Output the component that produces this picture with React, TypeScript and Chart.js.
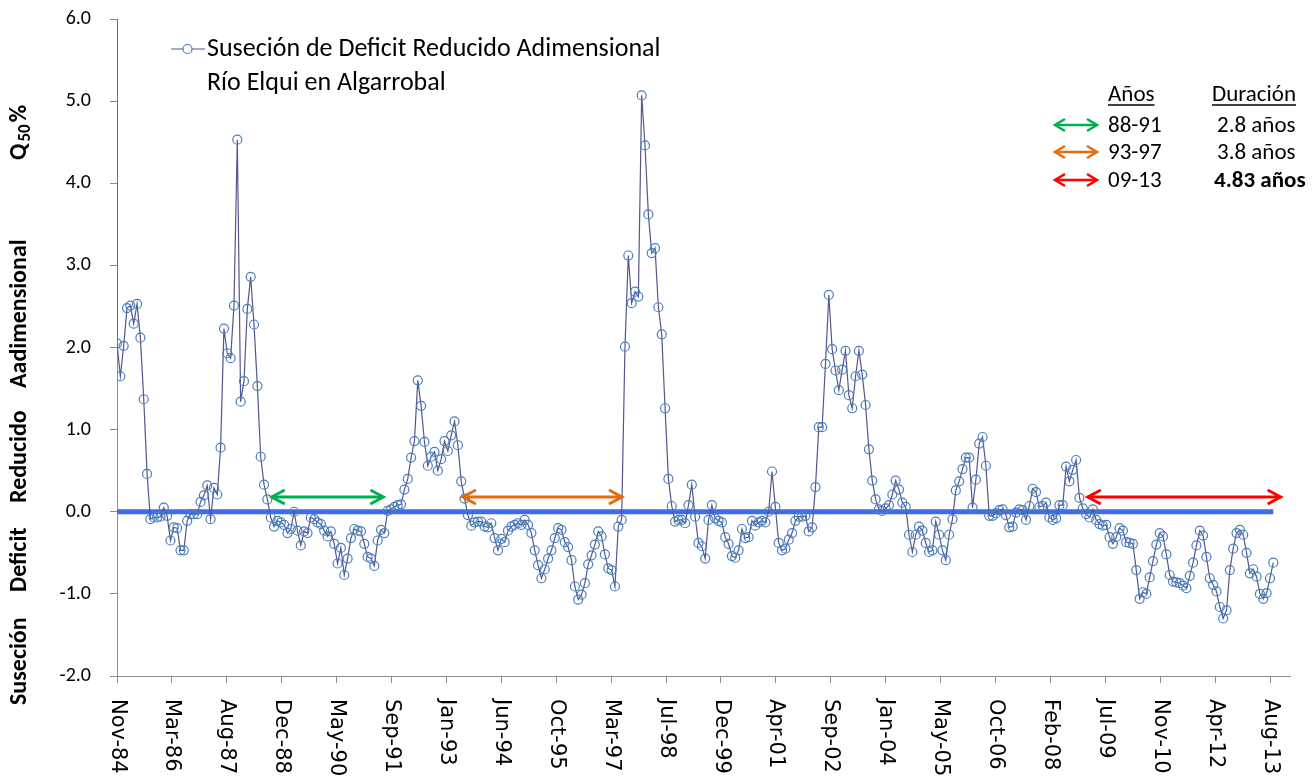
import React, { useEffect, useRef } from 'react';
import { Chart, registerables } from 'chart.js';

Chart.register(...registerables);

// ---------- data ----------
const LEGEND_LINE_1 = 'Suseción de Deficit Reducido Adimensional';
const LEGEND_LINE_2 = 'Río Elqui en Algarrobal';
const Y_TITLE_WORDS = ['Suseción', 'Deficit', 'Reducido', 'Aadimensional'];

const X_TICK_LABELS = [
  'Nov-84', 'Mar-86', 'Aug-87', 'Dec-88', 'May-90', 'Sep-91', 'Jan-93', 'Jun-94',
  'Oct-95', 'Mar-97', 'Jul-98', 'Dec-99', 'Apr-01', 'Sep-02', 'Jan-04', 'May-05',
  'Oct-06', 'Feb-08', 'Jul-09', 'Nov-10', 'Apr-12', 'Aug-13',
];
const MONTHS_PER_TICK = 16.43; // 500-day major unit, in months since Nov-84
const X_MAX_MONTH = 351;

const Y_MIN = -2;
const Y_MAX = 6;
const Y_STEP = 1;

// value just before the first plotted month (off the top of the scale)
const PRIOR_VALUE = 6.5;

// monthly values starting Nov-84
const deficitValues = [
  2.05, 1.65, 2.02, 2.48, 2.51, 2.29, 2.53, 2.12, 1.37, 0.46, -0.09, -0.07,
  -0.07, -0.06, 0.05, -0.05, -0.35, -0.19, -0.2, -0.47, -0.47, -0.11, -0.03, -0.03,
  -0.03, 0.12, 0.2, 0.32, -0.09, 0.29, 0.21, 0.78, 2.23, 1.93, 1.87, 2.51,
  4.53, 1.34, 1.59, 2.47, 2.86, 2.28, 1.53, 0.67, 0.33, 0.15, -0.07, -0.18,
  -0.11, -0.13, -0.16, -0.26, -0.21, 0.0, -0.23, -0.41, -0.24, -0.26, -0.07, -0.09,
  -0.13, -0.15, -0.23, -0.3, -0.24, -0.39, -0.63, -0.44, -0.77, -0.57, -0.32, -0.21,
  -0.23, -0.24, -0.39, -0.55, -0.57, -0.66, -0.35, -0.22, -0.26, 0.01, 0.03, 0.06,
  0.08, 0.09, 0.27, 0.4, 0.66, 0.86, 1.6, 1.29, 0.85, 0.56, 0.67, 0.73,
  0.5, 0.64, 0.86, 0.74, 0.93, 1.1, 0.81, 0.37, 0.16, -0.04, -0.17, -0.13,
  -0.12, -0.12, -0.18, -0.19, -0.14, -0.32, -0.47, -0.33, -0.37, -0.23, -0.18, -0.16,
  -0.14, -0.16, -0.1, -0.16, -0.26, -0.47, -0.65, -0.81, -0.7, -0.57, -0.47, -0.32,
  -0.2, -0.22, -0.37, -0.43, -0.59, -0.91, -1.07, -1.01, -0.87, -0.64, -0.53, -0.4,
  -0.24, -0.3, -0.52, -0.69, -0.71, -0.91, -0.18, -0.1, 2.01, 3.12, 2.54, 2.68,
  2.62, 5.07, 4.46, 3.62, 3.15, 3.21, 2.49, 2.16, 1.26, 0.4, 0.07, -0.12,
  -0.1, -0.1, -0.14, 0.08, 0.33, -0.06, -0.38, -0.42, -0.57, -0.1, 0.08, -0.08,
  -0.11, -0.13, -0.31, -0.39, -0.54, -0.56, -0.47, -0.21, -0.32, -0.31, -0.11, -0.17,
  -0.13, -0.11, -0.13, 0.0, 0.49, 0.06, -0.38, -0.47, -0.45, -0.34, -0.26, -0.11,
  -0.06, -0.06, -0.05, -0.24, -0.19, 0.3, 1.03, 1.03, 1.8, 2.64, 1.98, 1.72,
  1.48, 1.73, 1.96, 1.42, 1.26, 1.65, 1.96, 1.67, 1.3, 0.76, 0.38, 0.15,
  0.03, 0.01, 0.04, 0.08, 0.21, 0.38, 0.27, 0.11, 0.06, -0.28, -0.49, -0.28,
  -0.18, -0.23, -0.38, -0.49, -0.47, -0.12, -0.28, -0.47, -0.59, -0.28, -0.09, 0.26,
  0.37, 0.52, 0.66, 0.66, 0.05, 0.39, 0.83, 0.91, 0.56, -0.05, -0.05, -0.02,
  0.02, 0.03, -0.04, -0.19, -0.18, -0.01, 0.03, 0.02, -0.1, 0.07, 0.28, 0.24,
  0.06, 0.07, 0.11, -0.07, -0.1, -0.08, 0.08, 0.08, 0.55, 0.37, 0.51, 0.63,
  0.17, 0.04, -0.03, -0.07, 0.03, -0.1, -0.15, -0.17, -0.16, -0.31, -0.39, -0.31,
  -0.2, -0.23, -0.37, -0.38, -0.39, -0.71, -1.06, -0.98, -1.0, -0.8, -0.6, -0.4,
  -0.26, -0.3, -0.52, -0.77, -0.85, -0.86, -0.87, -0.9, -0.93, -0.78, -0.62, -0.41,
  -0.23, -0.29, -0.55, -0.81, -0.89, -0.97, -1.16, -1.3, -1.2, -0.71, -0.45, -0.26,
  -0.22, -0.28, -0.5, -0.75, -0.7, -0.79, -1.0, -1.06, -0.99, -0.81, -0.62,
];

const REFERENCE_LEVEL = 0;

const periodYears = ['88-91', '93-97', '09-13'];
const periodDurations = ['2.8 años', '3.8 años', '4.83 años'];
const periodStartMonth = [46.3, 103.5, 290.5];
const periodEndMonth = [79.7, 151.1, 348.2];
const periodColors = ['#00B050', '#E46C0A', '#FF0000'];
const PERIOD_ARROW_LEVEL = 0.18;

// ---------- styles ----------
const CAL = 'Carlito, Calibri, Lato, "Open Sans", sans-serif';
const VER = '"DejaVu Sans", Verdana, sans-serif';
const LINE_COLOR = '#55558f';
const MARKER_COLOR = '#4a7ebb';
const ZERO_COLOR = '#3d6cf0';
const AXIS_COLOR = '#8c8c8c';

function drawDoubleArrow(
  ctx: CanvasRenderingContext2D,
  x1: number,
  x2: number,
  y: number,
  color: string,
  head: number,
  half: number,
  lw: number
) {
  ctx.save();
  ctx.strokeStyle = color;
  ctx.lineWidth = lw;
  ctx.lineCap = 'butt';
  ctx.lineJoin = 'miter';
  ctx.beginPath();
  ctx.moveTo(x1 + 1, y);
  ctx.lineTo(x2 - 1, y);
  ctx.stroke();
  ctx.beginPath();
  ctx.moveTo(x1 + head, y - half);
  ctx.lineTo(x1, y);
  ctx.lineTo(x1 + head, y + half);
  ctx.stroke();
  ctx.beginPath();
  ctx.moveTo(x2 - head, y - half);
  ctx.lineTo(x2, y);
  ctx.lineTo(x2 - head, y + half);
  ctx.stroke();
  ctx.restore();
}

const decorPlugin = {
  id: 'decor',
  afterDraw(chart: any) {
    const ctx: CanvasRenderingContext2D = chart.ctx;
    const xs = chart.scales.x;
    const ys = chart.scales.y;
    const area = chart.chartArea;

    // x tick labels rotated 90deg clockwise
    ctx.save();
    ctx.fillStyle = '#000';
    ctx.font = `21px ${VER}`;
    X_TICK_LABELS.forEach((lab, i) => {
      const px = xs.getPixelForValue(i * MONTHS_PER_TICK);
      ctx.save();
      ctx.translate(px, area.bottom + 23);
      ctx.rotate(Math.PI / 2);
      ctx.textAlign = 'left';
      ctx.textBaseline = 'middle';
      ctx.fillText(lab, 0, 0);
      ctx.restore();
    });
    ctx.restore();

    // period arrows on the chart
    const ay = ys.getPixelForValue(PERIOD_ARROW_LEVEL);
    periodYears.forEach((_, i) => {
      drawDoubleArrow(
        ctx,
        xs.getPixelForValue(periodStartMonth[i]),
        xs.getPixelForValue(periodEndMonth[i]),
        ay,
        periodColors[i],
        13,
        7,
        3
      );
    });

    // legend
    ctx.save();
    ctx.strokeStyle = LINE_COLOR;
    ctx.lineWidth = 1.2;
    ctx.beginPath();
    ctx.moveTo(171, 49);
    ctx.lineTo(205, 49);
    ctx.stroke();
    ctx.strokeStyle = MARKER_COLOR;
    ctx.fillStyle = '#fff';
    ctx.beginPath();
    ctx.arc(187.5, 49, 4.5, 0, Math.PI * 2);
    ctx.fill();
    ctx.stroke();
    ctx.fillStyle = '#000';
    ctx.font = `26px ${CAL}`;
    ctx.textAlign = 'left';
    ctx.textBaseline = 'middle';
    ctx.fillText(LEGEND_LINE_1, 207, 49);
    ctx.fillText(LEGEND_LINE_2, 207, 83);
    ctx.restore();

    // table of periods
    ctx.save();
    ctx.fillStyle = '#000';
    ctx.strokeStyle = '#000';
    ctx.textAlign = 'left';
    ctx.textBaseline = 'middle';
    ctx.font = `23px ${CAL}`;
    const headers: [string, number][] = [
      ['Años', 1108],
      ['Duración', 1212],
    ];
    headers.forEach(([t, x]) => {
      ctx.fillText(t, x, 95);
      const w = ctx.measureText(t).width;
      ctx.lineWidth = 1.5;
      ctx.beginPath();
      ctx.moveTo(x, 105);
      ctx.lineTo(x + w, 105);
      ctx.stroke();
    });
    const rowY = [125, 152, 180];
    periodYears.forEach((yr, i) => {
      drawDoubleArrow(ctx, 1055, 1097, rowY[i], periodColors[i], 10, 6, 2.5);
      ctx.fillStyle = '#000';
      ctx.font = `23px ${CAL}`;
      ctx.fillText(yr, 1108, rowY[i] + 1);
      ctx.font = `${i === 2 ? 'bold ' : ''}23px ${CAL}`;
      ctx.fillText(periodDurations[i], i === 2 ? 1214 : 1217, rowY[i] + 1);
    });
    ctx.restore();

    // y axis title with subscript (each word starts at its measured height)
    ctx.save();
    ctx.translate(20, 0);
    ctx.rotate(-Math.PI / 2);
    ctx.fillStyle = '#000';
    ctx.textBaseline = 'middle';
    ctx.textAlign = 'left';
    const big = `bold 24px ${CAL}`;
    const small = `bold 17px ${CAL}`;
    const wordStarts = [705, 592, 503, 388];
    ctx.font = big;
    Y_TITLE_WORDS.forEach((w, i) => {
      ctx.fillText(w, -wordStarts[i], 0);
    });
    let cx = -160;
    ctx.fillText('Q', cx, 0);
    cx += ctx.measureText('Q').width + 2;
    ctx.font = small;
    ctx.fillText('50', cx, 6);
    cx += ctx.measureText('50').width + 2;
    ctx.font = big;
    ctx.fillText('%', cx, 0);
    ctx.restore();
  },
};

export default function App() {
  const canvasRef = useRef<HTMLCanvasElement | null>(null);

  useEffect(() => {
    const canvas = canvasRef.current;
    if (!canvas) return;
    const seriesPoints = [
      { x: 0, y: PRIOR_VALUE },
      ...deficitValues.map((v, i) => ({ x: i, y: v })),
    ];
    const chart = new Chart(canvas, {
      type: 'line',
      data: {
        datasets: [
          {
            label: LEGEND_LINE_1,
            data: seriesPoints,
            borderColor: LINE_COLOR,
            borderWidth: 1.2,
            pointStyle: 'circle',
            pointRadius: 4.5,
            pointBorderColor: MARKER_COLOR,
            pointBackgroundColor: 'rgba(255,255,255,0)',
            pointBorderWidth: 1.2,
            tension: 0,
            order: 1,
          },
          {
            label: 'zero',
            data: [
              { x: 0, y: REFERENCE_LEVEL },
              { x: deficitValues.length - 1, y: REFERENCE_LEVEL },
            ],
            borderColor: ZERO_COLOR,
            borderWidth: 5,
            pointRadius: 0,
            order: 2,
          },
        ],
      },
      options: {
        animation: false,
        responsive: false,
        devicePixelRatio: 1,
        layout: { padding: { top: 19, right: 24, bottom: 0, left: 0 } },
        plugins: {
          legend: { display: false },
          tooltip: { enabled: false },
        },
        scales: {
          x: {
            type: 'linear',
            min: 0,
            max: X_MAX_MONTH,
            afterBuildTicks: (s: any) => {
              s.ticks = X_TICK_LABELS.map((_, i) => ({ value: i * MONTHS_PER_TICK }));
            },
            afterFit: (s: any) => {
              s.height = 105;
              s.paddingLeft = 0;
              s.paddingRight = 0;
            },
            ticks: {
              autoSkip: false,
              maxRotation: 0,
              color: 'rgba(0,0,0,0)',
              font: { size: 10 },
            },
            grid: {
              drawOnChartArea: false,
              drawTicks: true,
              tickLength: 7,
              color: AXIS_COLOR,
            },
            border: { color: AXIS_COLOR, width: 1 },
          },
          y: {
            min: Y_MIN,
            max: Y_MAX,
            afterFit: (s: any) => {
              s.width = 117;
              s.paddingTop = 0;
              s.paddingBottom = 0;
            },
            ticks: {
              stepSize: Y_STEP,
              callback: (v: any) => Number(v).toFixed(1),
              font: { size: 20, family: CAL },
              color: '#000',
              padding: 19,
            },
            grid: {
              drawOnChartArea: false,
              drawTicks: true,
              tickLength: 7,
              color: AXIS_COLOR,
            },
            border: { color: AXIS_COLOR, width: 1 },
          },
        },
      },
      plugins: [decorPlugin],
    } as any);
    return () => chart.destroy();
  }, []);

  return (
    <div style={{ position: 'fixed', left: 0, top: 0, width: 1314, height: 781, background: '#fff' }}>
      <canvas ref={canvasRef} width={1314} height={781} style={{ width: 1314, height: 781 }} />
    </div>
  );
}
